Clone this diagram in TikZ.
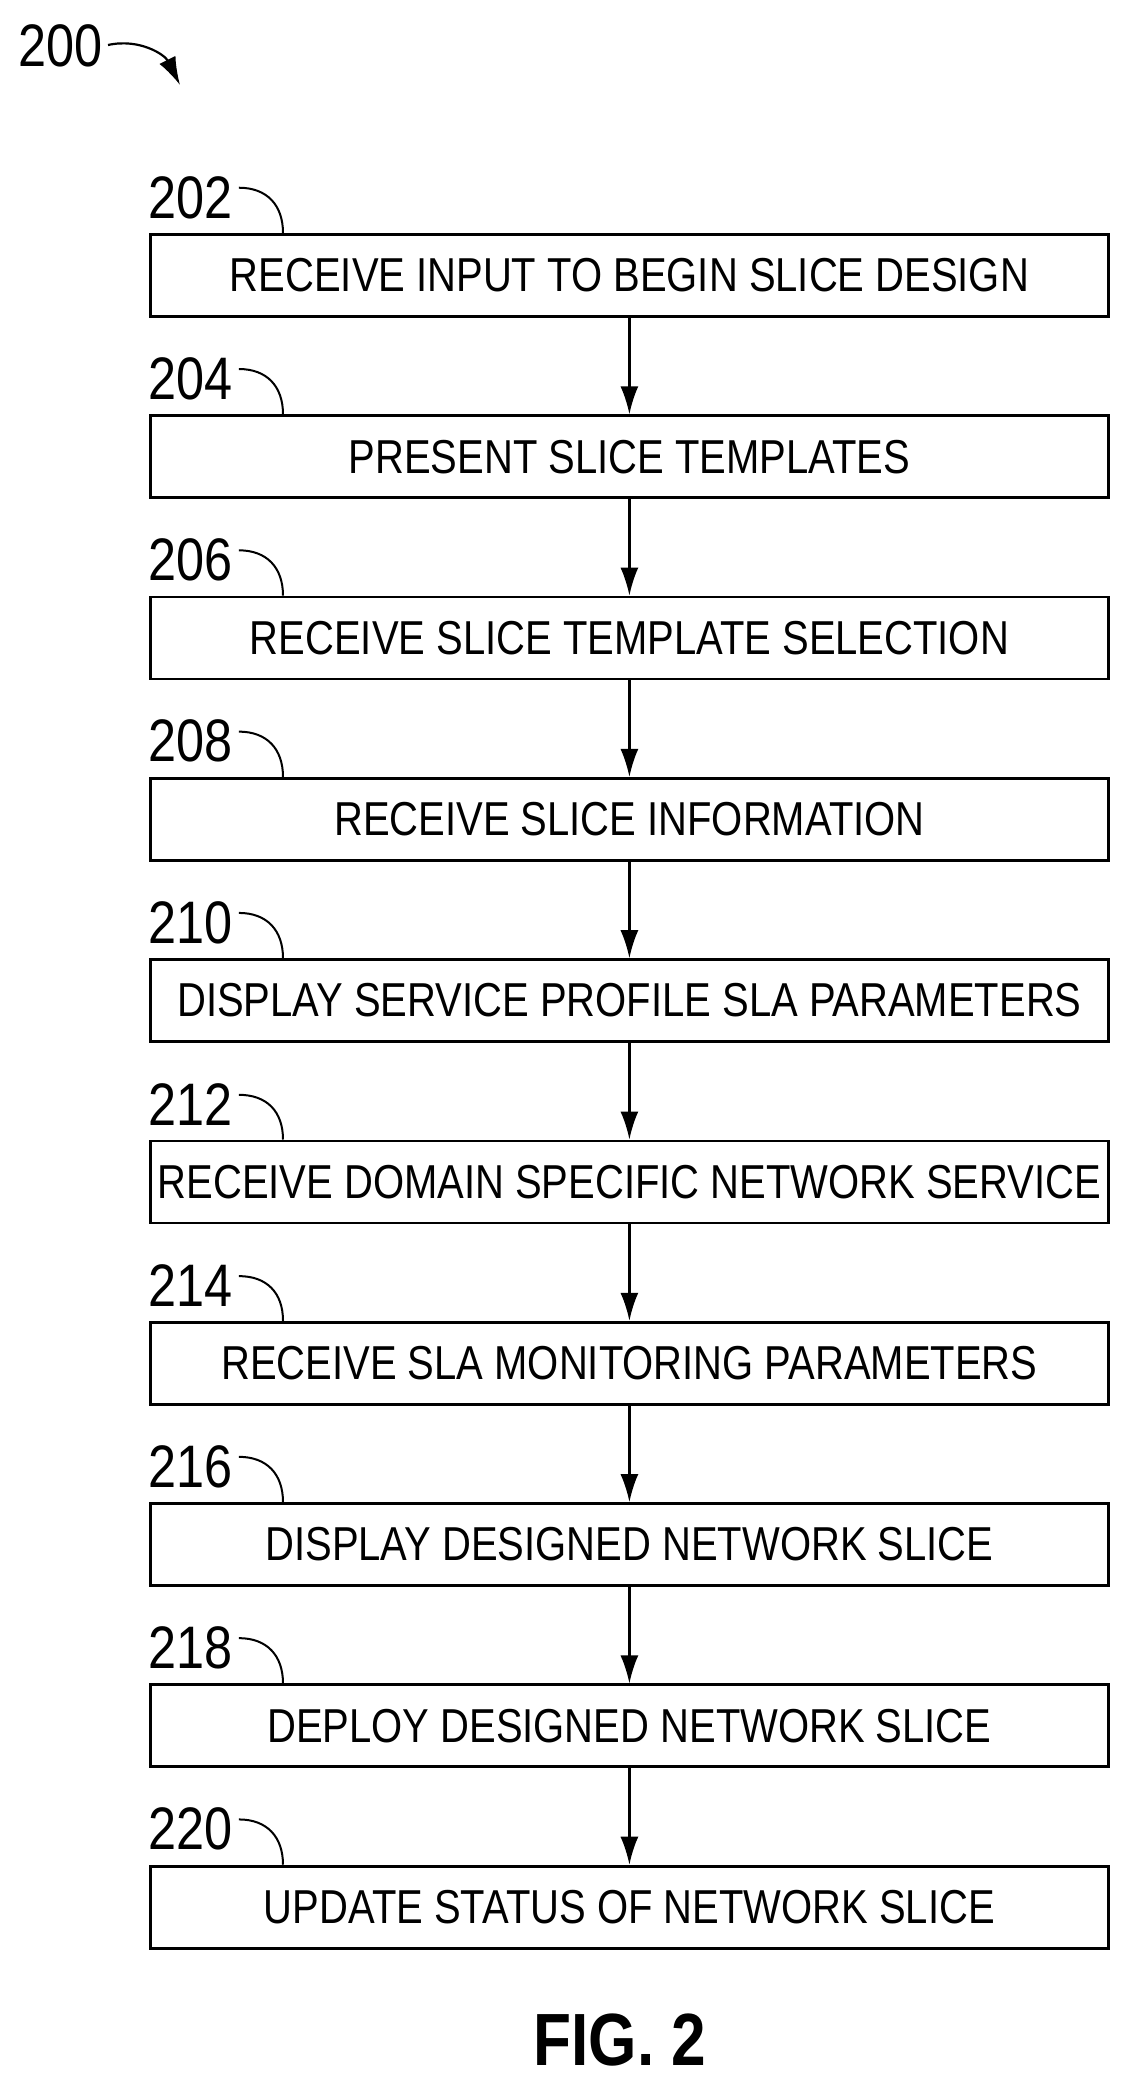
\documentclass[tikz,border=0pt]{standalone}
\usepackage{fontspec}
\setmainfont{Liberation Sans}[FakeStretch=0.84]
\usetikzlibrary{arrows.meta}
\begin{document}
\begin{tikzpicture}[x=0.5pt,y=-0.5pt,
  stepbox/.style={draw,line width=1.4pt,minimum width=479pt,minimum height=41pt,inner sep=0pt,font=\fontsize{23.8}{26}\selectfont,anchor=north west},
  lbl/.style={font=\fontsize{30}{33}\selectfont,anchor=south west,inner sep=0pt},
  flow/.style={line width=1.1pt,-{Latex[length=14pt,width=9pt]}}]
\useasboundingbox (0,0) rectangle (1133,2098);
\node[lbl] (l200) at (18,67) {200};
\coordinate (a0) at (108,45);
\coordinate (a1) at (180,85);
\draw[line width=1.1pt,-{Latex[length=14pt,width=9pt]}] (a0) .. controls (140,38) and (165,55) .. (a1);
\foreach \i/\n/\t in {0/202/RECEIVE INPUT TO BEGIN SLICE DESIGN,1/204/PRESENT SLICE TEMPLATES,2/206/RECEIVE SLICE TEMPLATE SELECTION,3/208/RECEIVE SLICE INFORMATION,4/210/DISPLAY SERVICE PROFILE SLA PARAMETERS,5/212/RECEIVE DOMAIN SPECIFIC NETWORK SERVICE,6/214/RECEIVE SLA MONITORING PARAMETERS,7/216/DISPLAY DESIGNED NETWORK SLICE,8/218/DEPLOY DESIGNED NETWORK SLICE,9/220/UPDATE STATUS OF NETWORK SLICE}{
  \pgfmathsetmacro\yy{233+181.3*\i}
  \node[stepbox] (b\i) at (149,\yy) {\t};
  \node[lbl] (n\i) at (148,\yy-14) {\n};
  \coordinate (s\i) at ([xshift=3pt,yshift=-6pt]n\i.north east);
  \coordinate (e\i) at ([xshift=67pt]b\i.north west);
  \draw[line width=1pt] (s\i) .. controls ([xshift=14pt]s\i) and ([yshift=14pt]e\i) .. (e\i);
}
\foreach \i [evaluate=\i as \j using int(\i+1)] in {0,...,8}{
  \draw[flow] (b\i.south) -- (b\j.north);
}
\node[font=\bfseries\fontsize{37}{40}\selectfont,inner sep=0pt] (fig) at (620,2040) {FIG. 2};
\end{tikzpicture}
\end{document}
